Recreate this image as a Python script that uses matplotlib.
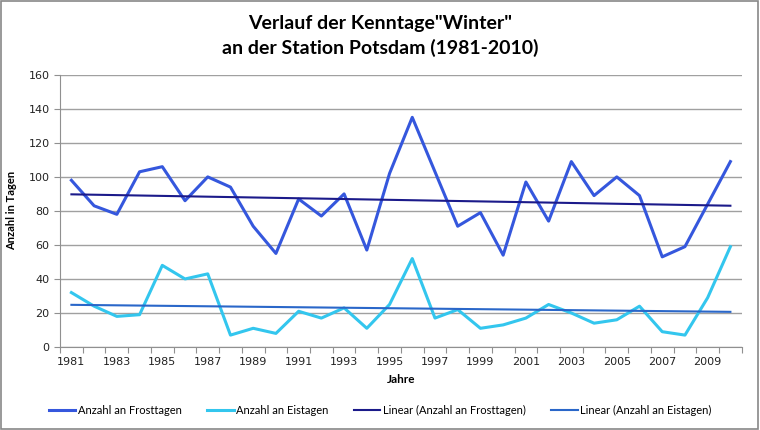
import matplotlib
matplotlib.use('Agg')
import matplotlib.pyplot as plt
import numpy as np

years = np.arange(1981, 2011)
frost = [98, 83, 78, 103, 106, 86, 100, 94, 71, 55,
         87, 77, 90, 57, 102, 135, 103, 71, 79, 54,
         97, 74, 109, 89, 100, 89, 53, 59, 84, 109]
eis = [32, 24, 18, 19, 48, 40, 43, 7, 11, 8,
       21, 17, 23, 11, 25, 52, 17, 22, 11, 13,
       17, 25, 20, 14, 16, 24, 9, 7, 29, 59]
labels = ['Anzahl an Frosttagen', 'Anzahl an Eistagen',
          'Linear (Anzahl an Frosttagen)', 'Linear (Anzahl an Eistagen)']

c_frost = '#3557dd'
c_eis = '#33c6ee'
c_lin_frost = '#1b1a8a'
c_lin_eis = '#2a67c9'

# linear trends
pf = np.polyfit(years, frost, 1)
pe = np.polyfit(years, eis, 1)

fig = plt.figure(figsize=(7.6, 4.3), dpi=100)
ax = fig.add_axes([0.079, 0.193, 0.897, 0.633])

ax.plot(years, frost, color=c_frost, lw=2.2, label=labels[0])
ax.plot(years, eis, color=c_eis, lw=2.2, label=labels[1])
ax.plot(years, np.polyval(pf, years), color=c_lin_frost, lw=1.5, label=labels[2])
ax.plot(years, np.polyval(pe, years), color=c_lin_eis, lw=1.5, label=labels[3])

ax.set_xlim(1980.5, 2010.5)
ax.set_ylim(0, 160)
ax.set_yticks(np.arange(0, 161, 20))
ax.yaxis.grid(True, color='#a0a0a0', lw=1)
ax.set_axisbelow(True)

# tick marks between categories, labels every second year
ax.set_xticks(np.arange(1980.5, 2011, 1))
ax.set_xticklabels([])
ax.set_xticks(years[::2], minor=True)
ax.set_xticklabels([str(y) for y in years[::2]], minor=True, fontsize=8,
                   family='DejaVu Sans', color='#222222')
ax.tick_params(axis='x', which='major', length=4, color='#909090', direction='out')
ax.tick_params(axis='x', which='minor', length=0, pad=7)
ax.tick_params(axis='y', length=4, color='#909090', labelsize=8, labelcolor='#222222')

for s in ['top', 'right']:
    ax.spines[s].set_visible(False)
for s in ['left', 'bottom']:
    ax.spines[s].set_color('#909090')

ax.set_ylabel('Anzahl in Tagen', fontsize=8, fontweight='bold', family='Lato', labelpad=8)
ax.set_xlabel('Jahre', fontsize=8.5, fontweight='bold', family='Lato', labelpad=5)

fig.text(0.5, 0.945, 'Verlauf der Kenntage"Winter"', ha='center', va='center',
         fontsize=14, fontweight='bold', family='Lato')
fig.text(0.5, 0.888, 'an der Station Potsdam (1981-2010)', ha='center', va='center',
         fontsize=14, fontweight='bold', family='Lato')

fig.legend(loc='center', bbox_to_anchor=(0.5, 0.045), ncol=4, frameon=False,
           prop={'family': 'Lato', 'size': 8}, handlelength=2.4,
           columnspacing=2.3, handletextpad=0.2)

# outer border
fig.patches.append(plt.Rectangle((0.001, 0.002), 0.997, 0.996, transform=fig.transFigure,
                                 fill=False, edgecolor='#888888', lw=1.2))

fig.savefig('out.png', dpi=100)
